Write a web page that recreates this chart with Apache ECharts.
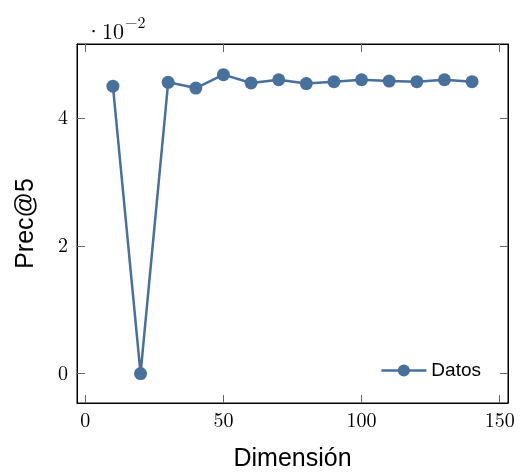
<!DOCTYPE html>
<html><head><meta charset="utf-8">
<script src="https://cdn.jsdelivr.net/npm/echarts@6/dist/echarts.min.js"></script>
<style>html,body{margin:0;padding:0;background:#fff}#c{width:520px;height:472px}</style>
</head><body><div id="c"></div>
<script>
const dims = [10,20,30,40,50,60,70,80,90,100,110,120,130,140];
const prec = [4.50,0.00,4.56,4.47,4.68,4.55,4.60,4.54,4.57,4.60,4.58,4.57,4.60,4.57];
const xTicks = [0,50,100,150];
const yTicks = [0,2,4];
const color = '#48709c';
const serif = 'Latin Modern Roman, DejaVu Serif, serif';
const sans = 'Liberation Sans, Arial, sans-serif';
const chart = echarts.init(document.getElementById('c'));
const tickStyle = {lineStyle:{color:'#666',width:1}};
const line = {show:true,onZero:false,lineStyle:{color:'#000',width:1}};
chart.setOption({
  animation:false,
  title:{text:'{a|·10}{b|−2}',left:80,top:10,textStyle:{rich:{
    a:{fontFamily:serif,fontSize:22,fontWeight:'normal',color:'#000',verticalAlign:'bottom'},
    b:{fontFamily:serif,fontSize:16,fontWeight:'normal',color:'#000',verticalAlign:'top',padding:[0,0,12,1]}}}},
  grid:{left:77,right:12,top:44,bottom:69,show:true,borderColor:'#000',borderWidth:1,outerBoundsMode:'none',containLabel:false},
  legend:{right:34,bottom:87,itemWidth:45,itemHeight:15,itemGap:7,
    textStyle:{fontFamily:sans,fontSize:19,color:'#000'},
    lineStyle:{color:color,width:2.5},itemStyle:{color:color},data:['Datos']},
  xAxis:[{type:'value',min:-3,max:153,position:'bottom',
    name:'Dimensión',nameLocation:'middle',nameGap:44,
    nameTextStyle:{fontFamily:sans,fontSize:25,color:'#000'},
    axisLine:line,
    axisTick:{show:true,inside:true,length:8,customValues:xTicks,...tickStyle},
    axisLabel:{customValues:xTicks,fontFamily:serif,fontSize:20,color:'#000',margin:8},
    splitLine:{show:false}},
   {type:'value',min:-3,max:153,position:'top',
    axisLine:line,
    axisTick:{show:true,inside:true,length:8,customValues:xTicks,...tickStyle},
    axisLabel:{show:false},splitLine:{show:false}}],
  yAxis:[{type:'value',min:-0.46,max:5.16,position:'left',
    name:'Prec@5',nameLocation:'middle',nameGap:38,
    nameTextStyle:{fontFamily:sans,fontSize:25,color:'#000'},
    axisLine:line,
    axisTick:{show:true,inside:true,length:8,customValues:yTicks,...tickStyle},
    axisLabel:{customValues:yTicks,fontFamily:serif,fontSize:20,color:'#000',margin:9},
    splitLine:{show:false}},
   {type:'value',min:-0.46,max:5.16,position:'right',
    axisLine:line,
    axisTick:{show:true,inside:true,length:8,customValues:yTicks,...tickStyle},
    axisLabel:{show:false},splitLine:{show:false}}],
  series:[{name:'Datos',type:'line',data:dims.map((d,i)=>[d,prec[i]]),
    symbol:'circle',symbolSize:13,showSymbol:true,
    itemStyle:{color:color},lineStyle:{color:color,width:2.5}}]
});
</script></body></html>
